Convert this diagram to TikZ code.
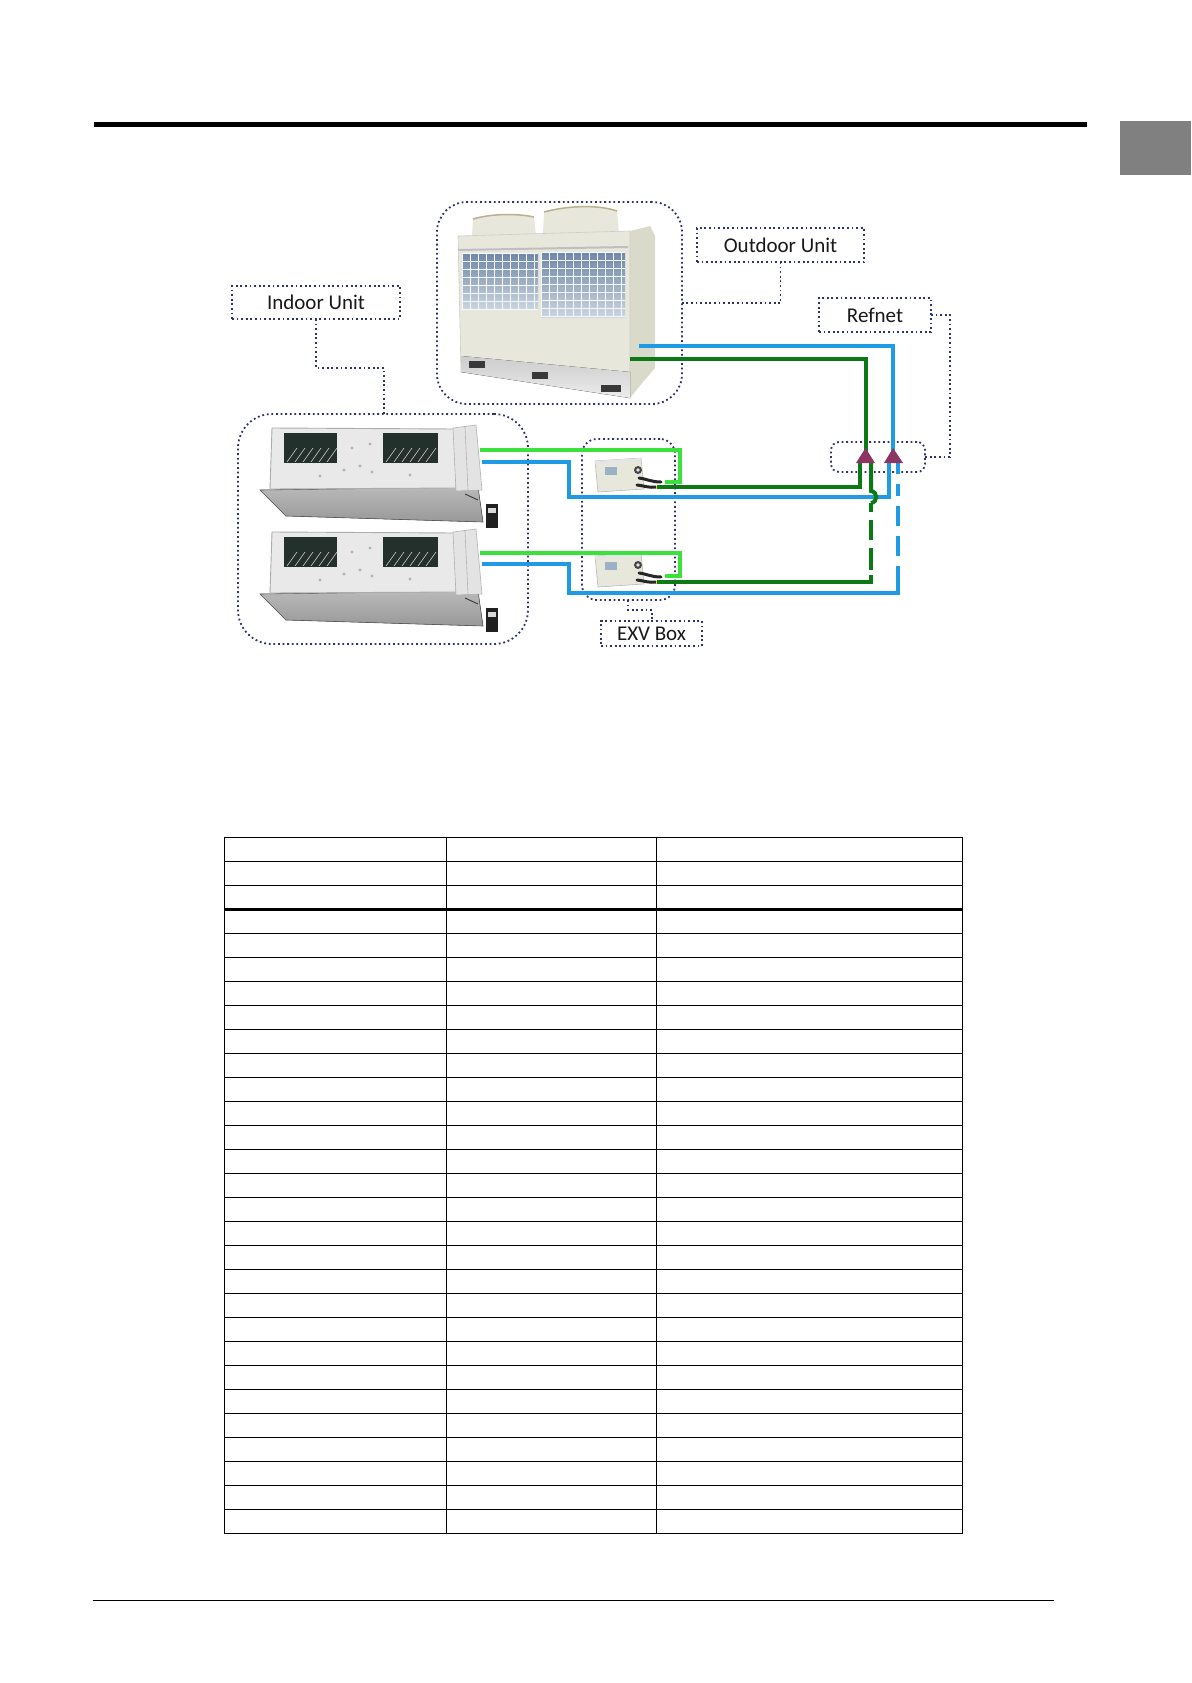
\documentclass[tikz,border=0pt]{standalone}
\usepackage{fontspec}
\setmainfont{Carlito}
\usetikzlibrary{calc}
\definecolor{navy}{HTML}{2E3272}
\definecolor{pipeblue}{HTML}{1F9BE6}
\definecolor{darkgreen}{HTML}{0B7A14}
\definecolor{lightgreen}{HTML}{3BE23B}
\definecolor{refnetc}{HTML}{8C3563}
\definecolor{beige}{HTML}{E7E7DB}
\definecolor{beigeside}{HTML}{DADACB}
\definecolor{fantop}{HTML}{B9B08E}
\definecolor{winc}{HTML}{24302C}
\definecolor{tabgray}{HTML}{808080}
\definecolor{labelblue}{HTML}{9DB1C6}
\definecolor{gridtop}{HTML}{6F87AA}
\definecolor{gridbot}{HTML}{CBD5E0}
\definecolor{silver}{HTML}{E9E9E9}
\tikzset{
  groupbox/.style={draw=navy, line width=1.8pt, dash pattern=on 1.8pt off 2.8pt, inner sep=0pt, outer sep=0pt},
  labelbox/.style={groupbox, font=\fontsize{21}{25}\selectfont, text=black!90},
  leader/.style={draw=navy, line width=1.8pt, dash pattern=on 1.8pt off 2.8pt},
  bpipe/.style={draw=pipeblue, line width=3.2pt},
  dgpipe/.style={draw=darkgreen, line width=4pt},
  lgpipe/.style={draw=lightgreen, line width=3.2pt},
  tablerule/.style={draw=black, line width=1.4pt},
  indoorpic/.pic={
    \fill[top color=gray!55, bottom color=gray!80] (0,62) -- (218,59) -- (223,94) -- (26,88) -- cycle;
    \draw[gray!70!black, line width=0.6pt] (0,62) -- (218,59) -- (223,94) -- (26,88) -- cycle;
    \fill[silver] (12,0) -- (196,1) -- (196,60) -- (10,61) -- cycle;
    \draw[gray!65, line width=0.9pt] (12,0) -- (196,1) -- (196,60) -- (10,61) -- cycle;
    \fill[gray!22] (193,0) -- (216,-3) -- (222,62) -- (196,63) -- cycle;
    \draw[gray!60, line width=0.6pt] (193,0) -- (216,-3) -- (222,62) -- (196,63) -- cycle;
    \draw[gray!60, line width=0.6pt] (205,-1) -- (208,62);
    \fill[winc] (24,5) rectangle (77,35);
    \fill[winc] (123,5) rectangle (178,35);
    \foreach \k in {0,...,5} {
      \draw[gray!55, line width=0.7pt] (27+8*\k,34) -- (37+8*\k,20);
      \draw[gray!55, line width=0.7pt] (126+8*\k,34) -- (136+8*\k,20);
    }
    \foreach \p in {(92,20),(110,16),(100,38),(84,42),(112,44),(60,48),(150,47)} \fill[gray!60] \p circle (1.6pt);
    \fill[gray!25!black] (226,76) rectangle (238,100);
    \fill[gray!30] (228,80) rectangle (236,85);
    \draw[gray!50!black, line width=1pt] (205,66) -- (218,72);
  },
  exvpic/.pic={
    \fill[beige] (0,3) -- (46,0) -- (49,31) -- (3,34) -- cycle;
    \draw[gray!55, line width=0.6pt] (0,3) -- (46,0) -- (49,31) -- (3,34) -- cycle;
    \fill[gray!20] (0,3) -- (46,0) -- (46,3) -- (0,6) -- cycle;
    \fill[labelblue] (10,9) rectangle (22,17);
    \fill[gray!55!black] (43,12) circle (4pt);
    \fill[gray!20] (43,12) circle (1.8pt);
    \draw[black!85, line width=3pt, line cap=round] (44,20) .. controls (52,21) and (56,24) .. (66,24);
    \draw[black!85, line width=3pt, line cap=round] (42,27) .. controls (50,28) and (54,30) .. (61,29);
    \fill[yellow!60!brown] (61,27.5) rectangle (64,31);
  }
}
\begin{document}
\begin{tikzpicture}[x=1pt,y=-1pt]
\useasboundingbox (0,0) rectangle (1191,1683);
\fill[white] (0,0) rectangle (1191,1683);

% page header / footer
\fill[black] (94,122.3) rectangle (1087,126.7);
\fill[tabgray] (1120,121) rectangle (1191,175);
\draw[black, line width=1.3pt] (92.7,1600.3) -- (1054,1600.3);

% ---------- outdoor unit image ----------
\fill[beige] (472,236) -- (473,219) .. controls (490,214) and (515,213) .. (534,217) -- (536,236) -- cycle;
\draw[fantop, line width=1.5pt] (473,219) .. controls (490,214) and (515,213) .. (534,217);
\fill[beige] (543,235) -- (544,212) .. controls (570,205) and (600,205) .. (617,211) -- (619,235) -- cycle;
\draw[fantop, line width=1.5pt] (544,212) .. controls (570,205) and (600,205) .. (617,211);
\fill[beigeside] (630,231) -- (650,226) -- (655,236) -- (655,368) -- (643,382) -- (630,398) -- cycle;
\fill[beige] (458,236) -- (630,231) -- (630,398) -- (461,372) -- cycle;
\draw[gray!40, line width=0.6pt] (458,236) -- (630,231) -- (630,398) -- (461,372) -- cycle;
\fill[top color=gray!40, bottom color=gray!15] (461,356) -- (630,372) -- (630,398) -- (461,372) -- cycle;
\fill[gray!45!black] (469,361) rectangle (485,368);
\fill[gray!45!black] (532,372) rectangle (548,379);
\fill[gray!45!black] (601,385) rectangle (621,392);
\fill[gray!50] (458,249) -- (628,246) -- (628,248) -- (458,251) -- cycle;
\fill[top color=gridtop, bottom color=gridbot] (462,253) rectangle (538,309);
\fill[top color=gridtop, bottom color=gridbot] (541,252) rectangle (625,317);
\foreach \i in {0,...,9} \draw[white!85!gridbot, line width=0.6pt] (462+8*\i,253) -- (462+8*\i,309);
\foreach \j in {0,...,7} \draw[white!85!gridbot, line width=0.6pt] (462,253+8*\j) -- (538,253+8*\j);
\foreach \i in {0,...,10} \draw[white!85!gridbot, line width=0.6pt] (541+8*\i,252) -- (541+8*\i,317);
\foreach \j in {0,...,8} \draw[white!85!gridbot, line width=0.6pt] (541,252+8*\j) -- (625,252+8*\j);

% ---------- indoor units and EXV boxes ----------
\pic at (260,428) {indoorpic};
\pic at (260,532) {indoorpic};
\pic at (595,458) {exvpic};
\pic at (595,553) {exvpic};

% ---------- group boxes ----------
\node[groupbox, rounded corners=30pt, minimum width=245pt, minimum height=202pt] (outdoorgrp) at (559.5,303) {};
\node[groupbox, rounded corners=34pt, minimum width=290pt, minimum height=230pt] (indoorgrp) at (383,529) {};
\node[groupbox, rounded corners=15pt, minimum width=93pt, minimum height=161pt] (exvgrp) at (628.5,519.5) {};
\node[groupbox, rounded corners=8pt, minimum width=94pt, minimum height=30pt] (refnetgrp) at (878,457) {};

% ---------- labels ----------
\node[labelbox, minimum width=168pt, minimum height=33pt] (indoorlbl) at (316,302.5) {Indoor Unit};
\node[labelbox, minimum width=167pt, minimum height=34pt] (outdoorlbl) at (780.5,245) {Outdoor Unit};
\node[labelbox, minimum width=112pt, minimum height=34pt] (refnetlbl) at (875,315) {Refnet};
\node[labelbox, minimum width=101pt, minimum height=25pt] (exvlbl) at (651.5,633.5) {EXV Box};

% ---------- leaders ----------
\coordinate (ilk) at (384,368);
\draw[leader] (indoorlbl.south) |- (ilk) -- (ilk |- indoorgrp.north);
\coordinate (olk) at (682,303);
\draw[leader] (outdoorlbl.south) |- (olk);
\draw[leader] (refnetlbl.east) -- ++(19,0) |- (refnetgrp.east);
\coordinate (ek1) at (628,610);
\coordinate (ek2) at (652,610);
\draw[leader] (ek1 |- exvgrp.south) -- (ek1) -- (ek2) -- (ek2 |- exvlbl.north);

% ---------- pipe coordinates ----------
\coordinate (iu1g) at (480,450);
\coordinate (iu1b) at (482,462);
\coordinate (iu2g) at (480,553);
\coordinate (iu2b) at (482,564);
\coordinate (exv1in) at (665,482);
\coordinate (exv1out) at (657,487);
\coordinate (exv2in) at (665,576);
\coordinate (exv2out) at (657,582);
\coordinate (oub) at (639,346);
\coordinate (oug) at (630,359);
\coordinate (rgapex) at (865.5,454);
\coordinate (rbapex) at (893,454);
\coordinate (rg1) at (860,462);
\coordinate (rg2) at (871,462);
\coordinate (rb1) at (889,462);
\coordinate (rb2) at (898,462);

% ---------- pipes ----------
\draw[lgpipe] (iu1g) -| (680,482) -- (exv1in);
\draw[lgpipe] (iu2g) -| (680,576) -- (exv2in);
\draw[bpipe] (oub) -| (rbapex);
\draw[dgpipe] (oug) -| (rgapex);
\draw[bpipe] (iu1b) -| (569,497) -| (rb1);
\draw[dgpipe] (exv1out) -| (rg1);
\draw[bpipe] (iu2b) -| (569,593) -- (899.6,593);
\draw[bpipe, dash pattern=on 12pt off 10pt on 12pt off 10pt on 20pt off 10pt on 20pt off 10pt on 30pt off 1pt] (rb2) -- (898,593);
\draw[dgpipe] (exv2out) -- (873,582);
\draw[dgpipe] (rg2) -- (871,491) .. controls (878,492) and (878,502) .. (871,503);
\draw[dgpipe, dash pattern=on 9pt off 8pt on 20pt off 8pt on 22pt off 5pt on 20pt off 1pt] (871,503) -- (871,584);

% ---------- refnet joints ----------
\fill[refnetc] (856,463) -- (875,463) -- (865.5,448) -- cycle;
\fill[refnetc] (884,463) -- (903,463) -- (893,448) -- cycle;

% ---------- table ----------
\foreach \k in {0,...,29} \draw[tablerule] (224.3,837.3+24*\k) -- (962.3,837.3+24*\k);
\draw[black, line width=2.8pt] (224.3,909.3) -- (962.3,909.3);
\foreach \xx in {224.3,446.7,656.7,962.3} \draw[tablerule] (\xx,836.6) -- (\xx,1534);
\end{tikzpicture}
\end{document}
